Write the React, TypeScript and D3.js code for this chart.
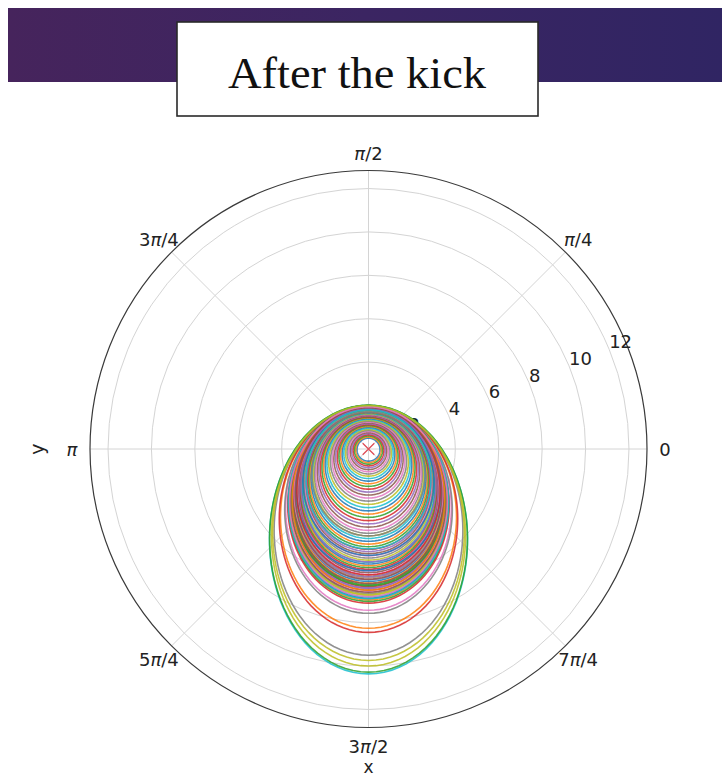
import React from "react";
import * as d3 from "d3";

// Orbit perihelion (top, towards π/2) and aphelion (bottom, towards 3π/2) distances
const perihelion = [
  0.50, 0.55, 0.60, 0.65, 0.70, 0.75, 0.80, 0.85, 0.90, 0.95,
  1.00, 1.04, 1.08, 1.12, 1.16, 1.20, 1.24, 1.28, 1.32, 1.36,
  1.40, 1.43, 1.46, 1.49, 1.52, 1.55, 1.58, 1.60, 1.62, 1.64,
  1.66, 1.68, 1.70, 1.72, 1.73, 1.74, 1.75, 1.76, 1.77, 1.78,
  1.79, 1.80, 1.81, 1.82, 1.83, 1.84, 1.85, 1.86, 1.86, 1.87,
  1.88, 1.88, 1.89, 1.90, 1.90, 1.91, 1.91, 1.92, 1.92, 1.93,
  1.93, 1.94, 1.94, 1.95, 1.95, 1.96, 1.96, 1.97, 1.97, 1.98,
  1.98, 1.99, 1.99, 2.00, 1.97, 1.96, 1.95, 1.99, 2.00, 2.01,
  1.85, 1.90, 2.02, 1.88, 1.86, 1.90, 1.94, 1.70, 2.00, 1.80,
];
const aphelion = [
  0.56, 0.63, 0.70, 0.78, 0.86, 0.95, 1.05, 1.15, 1.25, 1.36,
  1.48, 1.60, 1.72, 1.85, 1.98, 2.12, 2.26, 2.40, 2.55, 2.70,
  2.85, 3.00, 3.15, 3.30, 3.45, 3.60, 3.75, 3.88, 4.00, 4.12,
  4.25, 4.38, 4.50, 4.62, 4.72, 4.82, 4.92, 5.02, 5.12, 5.22,
  5.30, 5.38, 5.46, 5.54, 5.62, 5.70, 5.78, 5.86, 5.94, 6.02,
  6.10, 6.18, 6.26, 6.34, 6.42, 6.50, 6.58, 6.66, 6.74, 6.82,
  6.88, 6.95, 7.02, 7.10, 6.40, 6.20, 7.43, 7.57, 6.70, 6.90,
  5.60, 8.26, 6.30, 8.45, 5.90, 6.60, 6.00, 9.50, 9.74, 10.36,
  4.90, 6.50, 10.28, 5.80, 5.20, 6.00, 6.80, 4.00, 10.00, 4.60,
];

const radialTicks = [2, 4, 6, 8, 10, 12];
const angleTicksDeg = [0, 45, 90, 135, 180, 225, 270, 315];
const angleTickLabels = ["0", "π/4", "π/2", "3π/4", "π", "5π/4", "3π/2", "7π/4"];
const rMax = 12.83;
const title = "After the kick";

const W = 722;
const H = 777;
const cx = 368.5;
const cy = 449;
const R = 278.5;

function renderLabel(s: string) {
  const parts = s.split("π");
  const out: React.ReactNode[] = [];
  parts.forEach((p, i) => {
    if (p) out.push(<tspan key={"p" + i}>{p}</tspan>);
    if (i < parts.length - 1) out.push(<tspan key={"pi" + i} fontStyle="italic">π</tspan>);
  });
  return out;
}

export default function App() {
  const r = d3.scaleLinear().domain([0, rMax]).range([0, R]);
  const colors = d3.schemeCategory10;
  const angles = d3.range(0, 360, 2).map((d) => (d * Math.PI) / 180);
  const line = d3
    .lineRadial<[number, number]>()
    .angle((d) => d[0])
    .radius((d) => r(d[1]))
    .curve(d3.curveLinearClosed);

  const orbits = perihelion.map((rp, i) => {
    const ra = aphelion[i];
    const p = (2 * rp * ra) / (rp + ra);
    const e = (ra - rp) / (ra + rp);
    const pts: [number, number][] = angles.map((a) => [a, p / (1 + e * Math.cos(a))]);
    return { d: line(pts) as string, color: colors[i % 10] };
  });

  const rlAngle = (22.5 * Math.PI) / 180;
  const fontSans = "'DejaVu Sans', sans-serif";

  return (
    <svg width={W} height={H} style={{ position: "absolute", left: 0, top: 0, background: "#fff" }}>
      <defs>
        <linearGradient id="band" x1="0" x2="1" y1="0" y2="0">
          <stop offset="0" stopColor="#46245c" />
          <stop offset="0.5" stopColor="#3b2562" />
          <stop offset="1" stopColor="#302563" />
        </linearGradient>
      </defs>
      <rect x={8} y={8} width={W - 8} height={74} fill="url(#band)" />
      <rect x={177} y={22} width={361} height={94} fill="#fff" stroke="#2a2a2a" strokeWidth={1.6} />
      <text
        x={357}
        y={88}
        textAnchor="middle"
        fontFamily="'Liberation Serif', 'Times New Roman', serif"
        fontSize={45}
        textLength={258}
        lengthAdjust="spacingAndGlyphs"
        fill="#111"
      >
        {title}
      </text>

      <g transform={`translate(${cx},${cy})`}>
        {radialTicks.map((t) => (
          <circle key={t} r={r(t)} fill="none" stroke="#d4d4d4" strokeWidth={1} />
        ))}
        {angleTicksDeg.map((a) => {
          const rad = (a * Math.PI) / 180;
          return (
            <line key={a} x1={0} y1={0} x2={R * Math.cos(rad)} y2={-R * Math.sin(rad)} stroke="#d4d4d4" strokeWidth={1} />
          );
        })}
        <circle r={R} fill="none" stroke="#3a3a3a" strokeWidth={1.2} />
        {radialTicks.map((t) => (
          <text
            key={"rl" + t}
            x={r(t) * Math.cos(rlAngle)}
            y={-r(t) * Math.sin(rlAngle) - 1}
            textAnchor="start"
            fontFamily={fontSans}
            fontSize={18}
            fill="#222"
          >
            {t}
          </text>
        ))}
        {angleTicksDeg.map((a, i) => {
          const rad = (a * Math.PI) / 180;
          const rr = R + 18;
          return (
            <text
              key={"al" + a}
              x={rr * Math.cos(rad)}
              y={-rr * Math.sin(rad)}
              textAnchor="middle"
              dominantBaseline="central"
              fontFamily={fontSans}
              fontSize={18}
              fill="#222"
            >
              {renderLabel(angleTickLabels[i])}
            </text>
          );
        })}
        {orbits.map((o, i) => (
          <path key={i} d={o.d} fill="none" stroke={o.color} strokeWidth={1.6} strokeOpacity={0.85} />
        ))}
        <path
          d={d3.symbol(d3.symbolTimes, 90)() as string}
          fill="none"
          stroke="#e0505a"
          strokeWidth={1.3}
        />
      </g>

      <text x={cx} y={773} textAnchor="middle" fontFamily={fontSans} fontSize={17} fill="#222">
        x
      </text>
      <text
        transform={`translate(44,${cy}) rotate(-90)`}
        textAnchor="middle"
        fontFamily={fontSans}
        fontSize={19}
        fill="#222"
      >
        y
      </text>
    </svg>
  );
}
